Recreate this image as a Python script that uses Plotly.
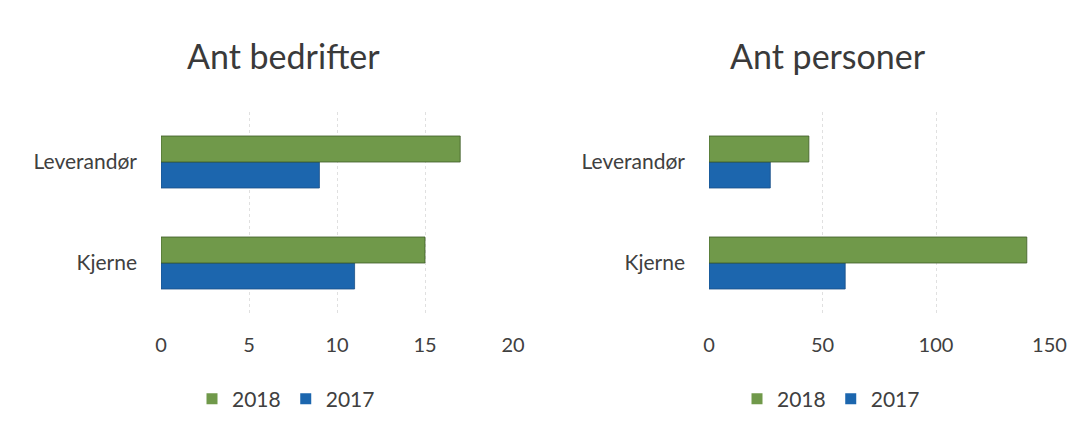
import plotly.graph_objects as go

categories = ["Kjerne", "Leverandør"]
bedrifter_2017 = [11, 9]
bedrifter_2018 = [15, 17]
personer_2017 = [60, 27]
personer_2018 = [140, 44]
left_ticks = [0, 5, 10, 15, 20]
right_ticks = [0, 50, 100, 150]
titles = ["Ant bedrifter", "Ant personer"]
series_names = ["2018", "2017"]

GREEN = "#70994A"
BLUE = "#1C66AE"
TXT = "#404040"
FONT = "Lato, 'Open Sans', sans-serif"

W, H = 1083, 426
OFF = 8  # page body margin


def px(x):
    return (x - OFF) / W


def py(y):
    return 1 - (y - OFF) / H


fig = go.Figure()


def add_bars(vals17, vals18, xa, ya):
    fig.add_trace(go.Bar(y=categories, x=vals17, orientation="h", name="2017",
                         marker=dict(color=BLUE, line=dict(color="#1a4f86", width=0.8)),
                         xaxis=xa, yaxis=ya, showlegend=False))
    fig.add_trace(go.Bar(y=categories, x=vals18, orientation="h", name="2018",
                         marker=dict(color=GREEN, line=dict(color="#3d5a26", width=0.8)),
                         xaxis=xa, yaxis=ya, showlegend=False))


add_bars(bedrifter_2017, bedrifter_2018, "x", "y")
add_bars(personer_2017, personer_2018, "x2", "y2")

# legend proxies (no data drawn)
for lg, xa, ya in [("legend", "x", "y"), ("legend2", "x2", "y2")]:
    for nm, col in zip(series_names, [GREEN, BLUE]):
        fig.add_trace(go.Scatter(x=[None], y=[None], mode="markers", name=nm,
                                 marker=dict(symbol="square", size=11, color=col),
                                 xaxis=xa, yaxis=ya, legend=lg, showlegend=True))

ydom = [py(313.5), py(111.5)]

xcommon = dict(showgrid=True, gridcolor="#e0e0e0", griddash="dot", gridwidth=1,
               zeroline=False, showline=False, ticks="", automargin=False,
               tickfont=dict(family=FONT, size=20, color=TXT), ticklabelstandoff=17)
ycommon = dict(showgrid=False, zeroline=False, showline=False, ticks="", automargin=False,
               tickfont=dict(family=FONT, size=21, color=TXT), ticklabelstandoff=23)

legcommon = dict(orientation="h", xanchor="center", yanchor="middle",
                 font=dict(family=FONT, size=21, color=TXT),
                 itemwidth=30, bgcolor="rgba(0,0,0,0)", tracegroupgap=0)

fig.update_layout(
    width=W, height=H,
    margin=dict(l=0, r=0, t=0, b=0, autoexpand=False),
    paper_bgcolor="white", plot_bgcolor="white",
    barmode="group", bargap=0.485, bargroupgap=0,
    showlegend=True,
    xaxis=dict(domain=[px(161), px(513)], range=[0, 20], tickvals=left_ticks, anchor="y", **xcommon),
    yaxis=dict(domain=ydom, anchor="x", **ycommon),
    xaxis2=dict(domain=[px(709), px(1049.5)], range=[0, 150], tickvals=right_ticks, anchor="y2", **xcommon),
    yaxis2=dict(domain=ydom, anchor="x2", **ycommon),
    legend=dict(x=px(286), y=py(399), **legcommon),
    legend2=dict(x=px(831), y=py(399), **legcommon),
    annotations=[
        dict(text=titles[0], x=px(283), y=py(56), xref="paper", yref="paper",
             showarrow=False, xanchor="center", yanchor="middle",
             font=dict(family=FONT, size=34, color="#3a3a3a")),
        dict(text=titles[1], x=px(828), y=py(56), xref="paper", yref="paper",
             showarrow=False, xanchor="center", yanchor="middle",
             font=dict(family=FONT, size=34, color="#3a3a3a")),
    ],
)

fig.write_html("out.html")
